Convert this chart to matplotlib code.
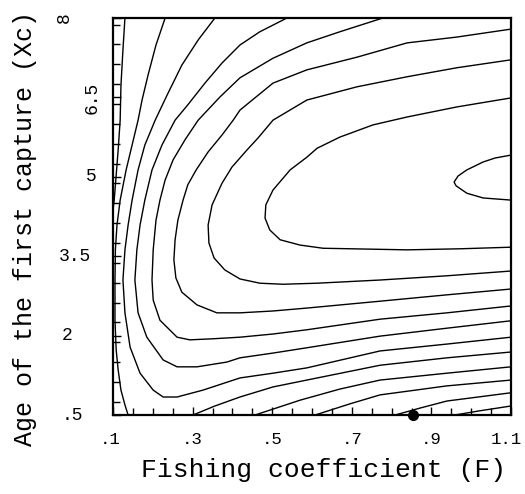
import matplotlib
matplotlib.use("Agg")
import matplotlib.pyplot as plt
from matplotlib.ticker import MultipleLocator
import matplotlib.transforms as mtransforms

# ---------------- data ----------------
x_ticks = [0.1, 0.3, 0.5, 0.7, 0.9, 1.1]
x_tick_labels = [".1", ".3", ".5", ".7", ".9", "1.1"]
y_ticks = [0.5, 2.0, 3.5, 5.0, 6.5, 8.0]
y_tick_labels = [".5", "2", "3.5", "5", "6.5", "8"]

# isopleths (fishing coefficient F, age of first capture Xc), innermost first
iso0_F = [1.100, 1.060, 1.030, 0.989, 0.967, 0.957, 0.962, 0.989, 1.030, 1.100]
iso0_Xc = [5.41, 5.355, 5.28, 5.13, 5.015, 4.90, 4.83, 4.69, 4.60, 4.56]

iso1_F = [1.100, 0.964, 0.839, 0.753, 0.670, 0.613, 0.587, 0.545, 0.502, 0.484,
          0.482, 0.494, 0.520, 0.570, 0.628, 0.839, 0.972, 1.100]
iso1_Xc = [6.49, 6.32, 6.13, 5.98, 5.75, 5.54, 5.37, 5.13, 4.75, 4.47,
           4.22, 3.995, 3.81, 3.71, 3.65, 3.62, 3.64, 3.67]

iso2_F = [1.100, 0.964, 0.839, 0.713, 0.587, 0.502, 0.464, 0.437, 0.399, 0.374,
          0.349, 0.339, 0.341, 0.354, 0.381, 0.419, 0.469, 0.527, 0.613, 0.771,
          0.939, 1.100]
iso2_Xc = [7.21, 7.06, 6.89, 6.70, 6.45, 6.07, 5.73, 5.51, 5.185, 4.88,
           4.47, 4.09, 3.75, 3.466, 3.24, 3.07, 2.99, 2.97, 2.99, 3.05,
           3.13, 3.22]

iso3_F = [1.100, 0.964, 0.839, 0.713, 0.587, 0.502, 0.419, 0.402, 0.374, 0.339,
          0.309, 0.288, 0.276, 0.263, 0.256, 0.253, 0.258, 0.273, 0.311, 0.361,
          0.419, 0.502, 0.587, 0.771, 0.939, 1.100]
iso3_Xc = [7.79, 7.64, 7.53, 7.26, 7.02, 6.77, 6.26, 6.07, 5.79, 5.47,
           5.13, 4.85, 4.56, 4.18, 3.81, 3.43, 3.09, 2.82, 2.58, 2.43,
           2.43, 2.465, 2.52, 2.65, 2.77, 2.88]

iso4_F = [0.778, 0.670, 0.587, 0.502, 0.419, 0.369, 0.314, 0.281, 0.251, 0.231,
          0.218, 0.208, 0.201, 0.198, 0.201, 0.218, 0.261, 0.293, 0.351, 0.419,
          0.502, 0.587, 0.771, 0.939, 1.100]
iso4_Xc = [8.0, 7.74, 7.53, 7.24, 6.87, 6.51, 6.07, 5.70, 5.32, 4.94,
           4.56, 4.18, 3.62, 3.05, 2.67, 2.29, 1.97, 1.92, 1.94, 1.97,
           2.03, 2.11, 2.31, 2.43, 2.56]

iso5_F = [0.537, 0.469, 0.419, 0.374, 0.331, 0.288, 0.256, 0.223, 0.198, 0.180,
          0.168, 0.160, 0.155, 0.163, 0.185, 0.226, 0.261, 0.311, 0.386, 0.419,
          0.502, 0.587, 0.771, 0.939, 1.100]
iso5_Xc = [8.0, 7.74, 7.49, 7.15, 6.77, 6.36, 6.07, 5.60, 5.13, 4.56,
           4.09, 3.62, 3.05, 2.43, 1.97, 1.54, 1.41, 1.41, 1.50, 1.58,
           1.67, 1.77, 1.99, 2.14, 2.28]

iso6_F = [0.356, 0.314, 0.273, 0.236, 0.206, 0.180, 0.163, 0.148, 0.138, 0.130,
          0.125, 0.130, 0.143, 0.168, 0.201, 0.226, 0.261, 0.326, 0.419, 0.502,
          0.587, 0.771, 0.939, 1.100]
iso6_Xc = [8.0, 7.585, 7.11, 6.545, 6.07, 5.60, 5.13, 4.56, 4.09, 3.62,
           3.05, 2.43, 1.78, 1.29, 0.97, 0.84, 0.84, 0.97, 1.20, 1.29,
           1.39, 1.71, 1.84, 1.97]

iso7_F = [0.231, 0.208, 0.188, 0.173, 0.163, 0.148, 0.133, 0.118, 0.110, 0.106,
          0.105, 0.105, 0.108, 0.113, 0.120, 0.130, 0.138]
iso7_Xc = [8.0, 7.49, 6.92, 6.45, 6.07, 5.60, 5.13, 4.56, 4.09, 3.62,
           3.05, 2.29, 1.73, 1.35, 0.97, 0.69, 0.50]

iso8_F = [0.130, 0.125, 0.120, 0.118, 0.113, 0.108, 0.103, 0.097]
iso8_Xc = [8.0, 7.40, 6.73, 6.07, 5.51, 5.03, 4.56, 4.18]

# isopleths starting on the lower edge
iso9_F = [0.301, 0.356, 0.419, 0.502, 0.587, 0.771, 0.939, 1.100]
iso9_Xc = [0.50, 0.67, 0.84, 1.03, 1.16, 1.44, 1.58, 1.69]

iso10_F = [0.457, 0.570, 0.670, 0.771, 0.939, 1.100]
iso10_Xc = [0.50, 0.78, 0.99, 1.16, 1.29, 1.41]

iso11_F = [0.608, 0.695, 0.771, 0.939, 1.100]
iso11_Xc = [0.50, 0.71, 0.88, 1.05, 1.16]

iso12_F = [0.809, 0.871, 0.939, 1.100]
iso12_Xc = [0.50, 0.63, 0.764, 0.92]

iso13_F = [0.959, 1.022, 1.100]
iso13_Xc = [0.50, 0.58, 0.67]

# present state of the fishery
current_F = [0.853]
current_Xc = [0.5]

isopleths = [
    (iso0_F, iso0_Xc), (iso1_F, iso1_Xc), (iso2_F, iso2_Xc), (iso3_F, iso3_Xc),
    (iso4_F, iso4_Xc), (iso5_F, iso5_Xc), (iso6_F, iso6_Xc), (iso7_F, iso7_Xc),
    (iso8_F, iso8_Xc), (iso9_F, iso9_Xc), (iso10_F, iso10_Xc),
    (iso11_F, iso11_Xc), (iso12_F, iso12_Xc), (iso13_F, iso13_Xc),
]

# ---------------- figure ----------------
mono = "Liberation Mono"
fig = plt.figure(figsize=(5.25, 4.94), dpi=100)
ax = fig.add_axes([113 / 525, 79 / 494, 398 / 525, 397 / 494])

for fx, fy in isopleths:
    ax.plot(fx, fy, color="black", lw=1.0, solid_joinstyle="round",
            solid_capstyle="round")

ax.plot(current_F, current_Xc, "o", color="black", ms=7, clip_on=False, zorder=6)

ax.set_xlim(0.1, 1.1)
ax.set_ylim(0.5, 8.0)

for s in ax.spines.values():
    s.set_linewidth(1.6)
    s.set_color("black")

ax.set_xticks(x_ticks)
ax.set_xticklabels(x_tick_labels, family=mono, fontsize=12.5)
ax.xaxis.set_minor_locator(MultipleLocator(0.05))
ax.set_yticks(y_ticks)
ax.set_yticklabels([""] * len(y_ticks))
ax.yaxis.set_minor_locator(MultipleLocator(0.375))
ax.tick_params(which="both", direction="in", top=False, right=False, width=1.0)
ax.tick_params(which="major", length=6)
ax.tick_params(which="minor", length=5)
ax.tick_params(axis="x", which="major", pad=12)

# nudge the outer x labels as in the original (".1" sits left, "1.1" stays inside)
x_shift_pts = [-3, 0, 0, 0, 0, -5]
for lab, dx in zip(ax.get_xticklabels(), x_shift_pts):
    lab.set_transform(lab.get_transform()
                      + mtransforms.ScaledTranslation(dx / 100, 0, fig.dpi_scale_trans))

# y tick labels (some printed sideways in the original)
trans = mtransforms.blended_transform_factory(ax.transAxes, ax.transData)
y_label_x = [-0.128, -0.130, -0.135, -0.068, -0.053, -0.123]
y_label_ha = ["left", "left", "left", "left", "center", "center"]
y_label_rot = [0, 0, 0, 0, 90, 90]
for v, lab, xx, ha, rot in zip(y_ticks, y_tick_labels, y_label_x, y_label_ha, y_label_rot):
    ax.text(xx, v, lab, transform=trans, ha=ha, va="center", rotation=rot,
            family=mono, fontsize=13, clip_on=False)

ax.set_xlabel("Fishing coefficient (F)", family=mono, fontsize=19)
ax.xaxis.set_label_coords(0.53, -0.139)
ax.xaxis.label.set_verticalalignment("center")
ax.set_ylabel("Age of the first capture (Xc)", family=mono, fontsize=18)
ax.yaxis.set_label_coords(-0.221, 0.471)
ax.yaxis.label.set_verticalalignment("center")

fig.savefig("out.png", dpi=100)
